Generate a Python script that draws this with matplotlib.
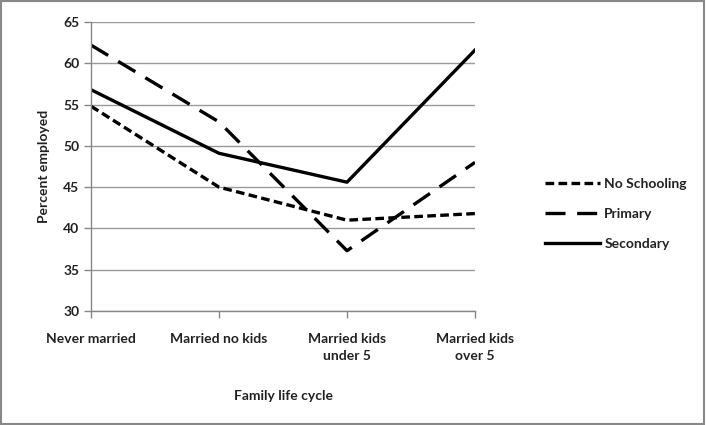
import matplotlib
matplotlib.use("Agg")
import matplotlib.pyplot as plt
from matplotlib.patches import Rectangle

categories = ["Never married", "Married no kids", "Married kids\nunder 5", "Married kids\nover 5"]
no_schooling = [54.8, 45.0, 41.0, 41.8]
primary = [62.2, 52.9, 37.3, 48.0]
secondary = [56.8, 49.1, 45.6, 61.6]
yticks = [30, 35, 40, 45, 50, 55, 60, 65]

plt.rcParams['font.family'] = ['Lato', 'DejaVu Sans']
fs = 10

fig = plt.figure(figsize=(7.06, 4.25), dpi=100)
ax = fig.add_axes([91/706, 1-311/425, (475-91)/706, (311-22)/425])

x = list(range(len(categories)))
lw = 2.4
ax.plot(x, no_schooling, color='black', lw=lw, dashes=(2.6, 1.3), label='No Schooling')
ax.plot(x, primary, color='black', lw=lw, dashes=(6, 3.5), label='Primary')
ax.plot(x, secondary, color='black', lw=lw, label='Secondary')

ax.set_xlim(0, 3)
ax.set_ylim(30, 65)
ax.set_yticks(yticks)
ax.set_xticks(x)
ax.set_xticklabels(categories, fontsize=fs, fontweight='bold', color='#222222', linespacing=1.5)
ax.tick_params(axis='y', labelsize=fs, colors='#888888', labelcolor='#222222', length=5, width=1)
ax.tick_params(axis='x', colors='#888888', labelcolor='#222222', length=5, width=1, pad=11)
for lbl in ax.get_yticklabels():
    lbl.set_fontweight('bold')
ax.yaxis.grid(True, color='#999999', lw=1)
ax.set_axisbelow(True)
for s in ['top', 'right']:
    ax.spines[s].set_visible(False)
for s in ['left', 'bottom']:
    ax.spines[s].set_color('#888888')
    ax.spines[s].set_linewidth(1)

ax.set_ylabel('Percent employed', fontsize=fs, fontweight='bold', color='#222222', labelpad=9)
ax.set_xlabel('Family life cycle', fontsize=fs, fontweight='bold', color='#222222', labelpad=20)

leg = fig.legend(loc='upper left', bbox_to_anchor=(532/706, 1-165/425), frameon=False,
                 fontsize=fs, handlelength=4.0, handletextpad=0.3, labelspacing=1.3)
for t in leg.get_texts():
    t.set_fontweight('bold')
    t.set_color('#222222')

fig.patches.append(Rectangle((0.002, 0.003), 0.995, 0.994, transform=fig.transFigure,
                             fill=False, edgecolor='#888888', lw=1.5))

fig.savefig('out.png', dpi=100)
